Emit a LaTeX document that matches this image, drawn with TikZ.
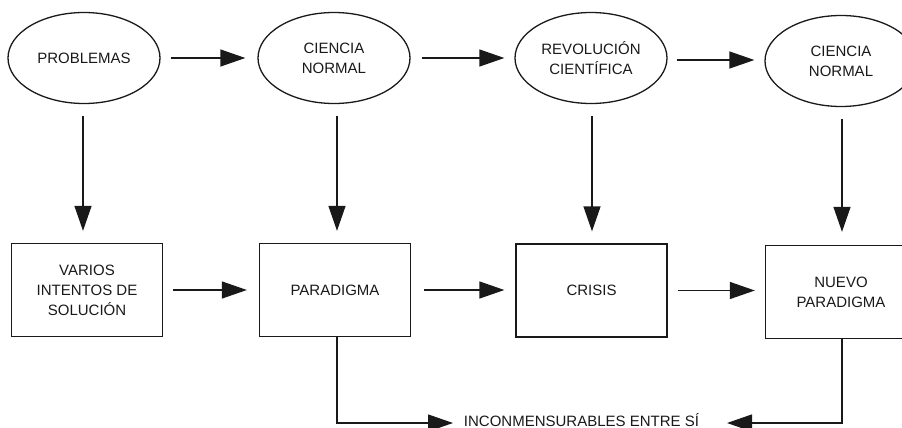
\documentclass[tikz,border=0pt]{standalone}
\usepackage{fontspec}
\setmainfont{Liberation Sans}
\usetikzlibrary{shapes.geometric,arrows.meta}
\begin{document}
\begin{tikzpicture}[x=1pt,y=-1pt,
  every node/.style={font=\fontsize{15}{20}\selectfont, text=black!90},
  ell/.style={draw=black!90, ellipse, line width=1.3pt, minimum width=152pt, minimum height=91pt, inner sep=0pt, align=center},
  box/.style={draw=black!90, rectangle, line width=1.3pt, minimum width=151pt, minimum height=93pt, inner sep=0pt, align=center},
  arr/.style={draw=black!90, line width=1.3pt, -{Triangle[length=25pt,width=17pt]}},
]
\useasboundingbox (0,0) rectangle (902,428);
\clip (0,0) rectangle (902,428);

% ellipses
\node[ell] (e1) at (84,58) {PROBLEMAS};
\node[ell] (e2) at (334,58) {CIENCIA\\NORMAL};
\node[ell] (e3) at (591,58) {REVOLUCIÓN\\CIENTÍFICA};
\node[ell] (e4) at (841,61) {CIENCIA\\NORMAL};

% boxes
\node[box] (b1) at (87,290) {VARIOS\\INTENTOS DE\\SOLUCIÓN};
\node[box] (b2) at (335,290) {PARADIGMA};
\node[box] (b3) at (591.5,290.5) {CRISIS};
\node[box] (b4) at (841,292) {NUEVO\\PARADIGMA};

% bottom label
\node[anchor=base, inner sep=0pt] (lab) at (581.5,426.5) {INCONMENSURABLES ENTRE SÍ};
\coordinate (lt) at (453,423);
\coordinate (rt) at (727,423);

% top horizontal arrows
\draw[arr, shorten <=10pt, shorten >=12pt] (e1.east) -- (e1.east -| e2.west);
\draw[arr, shorten <=11pt, shorten >=10pt] (e2.east) -- (e2.east -| e3.west);
\draw[arr, shorten <=9pt, shorten >=10pt] (e3.east |- 0,60) -- (e4.west |- 0,60);

% vertical arrows
\draw[arr, shorten <=12pt, shorten >=12pt] ([xshift=-1pt]e1.south) -- ([xshift=-1pt]e1.south |- b1.north);
\draw[arr, shorten <=12pt, shorten >=12pt] ([xshift=3pt]e2.south) -- ([xshift=3pt]e2.south |- b2.north);
\draw[arr, shorten <=12pt, shorten >=12pt] ([xshift=1pt]e3.south) -- ([xshift=1pt]e3.south |- b3.north);
\draw[arr, shorten <=12pt, shorten >=13pt] ([xshift=1pt]e4.south) -- ([xshift=1pt]e4.south |- b4.north);

% bottom horizontal arrows
\draw[arr, shorten <=10pt, shorten >=12pt] (b1.east) -- (b1.east -| b2.west);
\draw[arr, shorten <=13pt, shorten >=11pt] (b2.east) -- (b2.east -| b3.west);
\draw[arr, shorten <=10pt, shorten >=10pt] (b3.east) -- (b3.east -| b4.west);

% bottom connectors
\draw[arr] ([xshift=2pt]b2.south) |- (lt);
\draw[arr] ([xshift=1pt]b4.south) |- (rt);
\end{tikzpicture}
\end{document}
